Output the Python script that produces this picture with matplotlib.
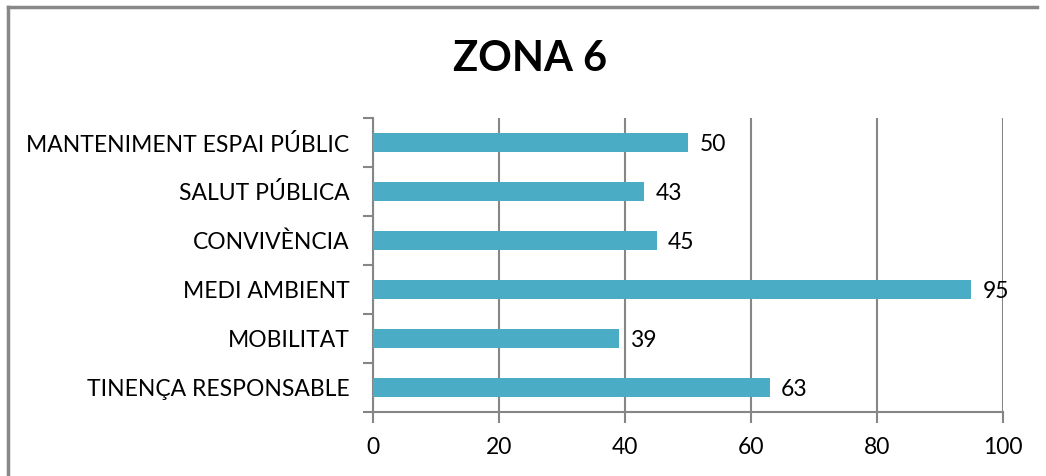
import matplotlib
matplotlib.use("Agg")
import matplotlib.pyplot as plt
from matplotlib.lines import Line2D

categories = [
    "TINENÇA RESPONSABLE",
    "MOBILITAT",
    "MEDI AMBIENT",
    "CONVIVÈNCIA",
    "SALUT PÚBLICA",
    "MANTENIMENT ESPAI PÚBLIC",
]
values = [63, 39, 95, 45, 43, 50]
x_ticks = [0, 20, 40, 60, 80, 100]
title = "ZONA 6"

bar_color = "#4BACC6"
grid_color = "#868686"

plt.rcParams["font.family"] = ["Lato", "DejaVu Sans"]

fig = plt.figure(figsize=(10.46, 4.76), dpi=100)
ax = fig.add_axes([373 / 1046, 1 - 412 / 476, 630 / 1046, 294 / 476])

ypos = list(range(len(categories)))
ax.barh(ypos, values, height=0.4, color=bar_color, zorder=3)

for y, v in zip(ypos, values):
    ax.text(v + 1.8, y - 0.04, str(v), va="center", ha="left", fontsize=16.5, zorder=4)

ax.set_xlim(0, 100)
ax.set_ylim(-0.5, len(categories) - 0.5)
ax.set_xticks(x_ticks)
ax.set_xticklabels([str(t) for t in x_ticks], fontsize=16.5)
ax.set_yticks(ypos)
ax.set_yticklabels(categories, fontsize=16.5)
ax.tick_params(axis="y", length=0, pad=17)
ax.tick_params(axis="x", length=8, width=1.5, color=grid_color, pad=10)

# minor ticks on the y axis at category boundaries
ax.set_yticks([y - 0.5 for y in range(len(categories) + 1)], minor=True)
ax.tick_params(axis="y", which="minor", length=7, width=1.5, color=grid_color)

ax.grid(axis="x", color=grid_color, linewidth=1.5, zorder=0)
for s in ["top", "right"]:
    ax.spines[s].set_visible(False)
for s in ["left", "bottom"]:
    ax.spines[s].set_color(grid_color)
    ax.spines[s].set_linewidth(1.5)

fig.text(530 / 1046, 1 - 59 / 476, title, ha="center", va="center",
         fontsize=30, fontweight="bold")

# outer chart border
fig.add_artist(Line2D([8 / 1046, 8 / 1046], [0, 1 - 7 / 476], color="#888888", linewidth=2.5,
                      transform=fig.transFigure))
fig.add_artist(Line2D([8 / 1046, 1037 / 1046], [1 - 7 / 476, 1 - 7 / 476], color="#888888",
                      linewidth=2.5, transform=fig.transFigure))

fig.savefig("out.png", dpi=100)
